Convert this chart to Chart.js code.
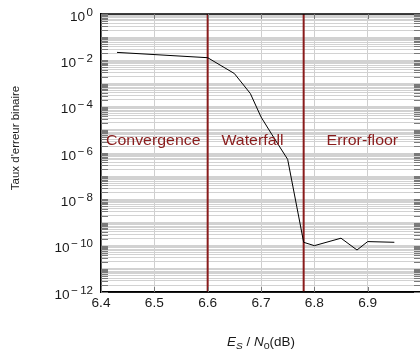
<!DOCTYPE html>
<html>
<head>
<meta charset="utf-8">
<script src="https://cdn.jsdelivr.net/npm/chart.js@4/dist/chart.umd.min.js"></script>
<style>
  html, body { margin: 0; padding: 0; background: #fff; overflow: hidden; }
  #wrap { width: 432px; height: 352px; }
</style>
</head>
<body>
<div id="wrap"><canvas id="chart" width="432" height="352"></canvas></div>
<script>
// measured curve (Es/N0 in dB, bit error rate)
const snrDb = [6.43, 6.6, 6.65, 6.68, 6.7, 6.72, 6.75, 6.78, 6.8, 6.85, 6.88, 6.9, 6.95];
const ber = [2.2e-2, 1.3e-2, 2.7e-3, 3.7e-4, 3.6e-5, 6.5e-6, 5.3e-7, 1.4e-10, 1.0e-10, 2.1e-10, 6.5e-11, 1.5e-10, 1.4e-10];

// region borders and names
const regionBorders = [6.6, 6.78];
const regionNames = ['Convergence', 'Waterfall', 'Error-floor'];
const regionCenters = [6.498, 6.684, 6.89];

// axes
const xTicks = [6.4, 6.5, 6.6, 6.7, 6.8, 6.9, 7.0];
const xTickLabels = ['6.4', '6.5', '6.6', '6.7', '6.8', '6.9', ''];
const yDecades = [0, -1, -2, -3, -4, -5, -6, -7, -8, -9, -10, -11, -12];
const yLabelExps = [0, -2, -4, -6, -8, -10, -12];

const DARKRED = '#8a1c1c';
const FONT = '"Liberation Sans", Arial, sans-serif';

const yMin = 1e-12, yMax = 1;

// draw text with horizontal stretch; returns drawn width
function wideText(ctx, text, x, y, font, sx, align) {
    ctx.font = font;
    const w = ctx.measureText(text).width * sx;
    let left = x;
    if (align === 'center') left = x - w / 2;
    else if (align === 'right') left = x - w;
    ctx.save();
    ctx.translate(left, y);
    ctx.scale(sx, 1);
    ctx.textAlign = 'left';
    ctx.fillText(text, 0, 0);
    ctx.restore();
    return w;
}

const labelsPlugin = {
    id: 'labels',
    afterDraw(chart) {
        const ctx = chart.ctx;
        const xs = chart.scales.x, ys = chart.scales.y;
        const area = chart.chartArea;
        ctx.save();

        // inward tick marks
        ctx.lineWidth = 1;
        ctx.strokeStyle = '#7a7a7a';
        for (const t of ys.ticks) {
            const y = Math.round(ys.getPixelForValue(t.value)) + 0.5;
            ctx.beginPath();
            ctx.moveTo(area.left, y); ctx.lineTo(area.left + 7, y);
            ctx.moveTo(area.right, y); ctx.lineTo(area.right - 7, y);
            ctx.stroke();
        }
        for (const v of xTicks) {
            const x = Math.round(xs.getPixelForValue(v)) + 0.5;
            ctx.beginPath();
            ctx.moveTo(x, area.top); ctx.lineTo(x, area.top + 5);
            ctx.moveTo(x, area.bottom); ctx.lineTo(x, area.bottom - 5);
            ctx.stroke();
        }

        // region names
        ctx.fillStyle = DARKRED;
        ctx.textBaseline = 'middle';
        regionNames.forEach((name, i) => {
            wideText(ctx, name, xs.getPixelForValue(regionCenters[i]), ys.getPixelForValue(3.5e-6),
                '15px ' + FONT, 1.06, 'center');
        });

        // x tick labels
        ctx.fillStyle = '#1a1a1a';
        ctx.textBaseline = 'alphabetic';
        xTicks.forEach((v, i) => {
            wideText(ctx, xTickLabels[i], xs.getPixelForValue(v), area.bottom + 15,
                '13px ' + FONT, 1.05, 'center');
        });

        // y tick labels 10^n
        for (const e of yLabelExps) {
            const y = ys.getPixelForValue(Math.pow(10, e));
            const expText = e === 0 ? '0' : '\u2212\u2009' + Math.abs(e);
            ctx.font = '11px ' + FONT;
            const ew = ctx.measureText(expText).width * 1.05;
            const expX = area.left - 8 - ew;
            wideText(ctx, expText, expX, y + 1.5, '11px ' + FONT, 1.05, 'left');
            wideText(ctx, '10', expX - 1.5, y + 6.5, '13px ' + FONT, 1.05, 'right');
        }

        // y axis title
        ctx.save();
        ctx.translate(16, 138);
        ctx.rotate(-Math.PI / 2);
        ctx.font = '11.5px ' + FONT;
        ctx.textAlign = 'center';
        ctx.textBaseline = 'middle';
        ctx.fillText("Taux d'erreur binaire", 0, 0);
        ctx.restore();

        // x axis title: Es / N0(dB)
        const parts = [
            { t: 'E', f: 'italic 12px ', dy: 0 },
            { t: 'S', f: 'italic 9px ', dy: 3 },
            { t: ' / ', f: '12px ', dy: 0 },
            { t: 'N', f: 'italic 12px ', dy: 0 },
            { t: '0', f: '9.5px ', dy: 3 },
            { t: '(dB)', f: '12px ', dy: 0 }
        ];
        const sxTitle = 1.12;
        let total = 0;
        for (const p of parts) { ctx.font = p.f + FONT; total += ctx.measureText(p.t).width * sxTitle; }
        let cx = (area.left + area.right) / 2 - total / 2;
        for (const p of parts) {
            cx += wideText(ctx, p.t, cx, 346 + p.dy, p.f + FONT, sxTitle, 'left');
        }
        ctx.restore();
    }
};

const datasets = [{
    data: snrDb.map((x, i) => ({ x: x, y: ber[i] })),
    borderColor: '#000',
    borderWidth: 1,
    pointRadius: 0,
    tension: 0,
    order: 0
}];
regionBorders.forEach(b => {
    datasets.push({
        data: [{ x: b, y: yMin }, { x: b, y: yMax }],
        borderColor: DARKRED,
        borderWidth: 2,
        pointRadius: 0,
        order: 1
    });
});

new Chart(document.getElementById('chart').getContext('2d'), {
    type: 'line',
    data: { datasets: datasets },
    options: {
        responsive: false,
        animation: false,
        events: [],
        layout: { padding: { left: 101, top: 14, right: 11, bottom: 60 } },
        plugins: { legend: { display: false }, tooltip: { enabled: false } },
        scales: {
            x: {
                type: 'linear',
                min: 6.4,
                max: 7.0,
                afterBuildTicks: scale => { scale.ticks = xTicks.map(v => ({ value: v })); },
                ticks: { display: false },
                grid: { color: '#cfcfcf', lineWidth: 1, drawTicks: false },
                border: { display: true, color: '#000', width: 1.5 }
            },
            y: {
                type: 'logarithmic',
                min: yMin,
                max: yMax,
                afterBuildTicks: scale => {
                    const t = [];
                    for (const d of yDecades) {
                        t.push({ value: Math.pow(10, d) });
                        if (d > -12) {
                            for (let m = 2; m <= 9; m++) t.push({ value: m * Math.pow(10, d - 1) });
                        }
                    }
                    scale.ticks = t;
                },
                ticks: { display: false },
                grid: { color: '#d2d2d2', lineWidth: 1, drawTicks: false },
                border: { display: true, color: '#000', width: 1.5 }
            }
        }
    },
    plugins: [labelsPlugin, {
        id: 'frame',
        afterDatasetsDraw(chart) {
            const a = chart.chartArea, ctx = chart.ctx;
            ctx.save();
            ctx.strokeStyle = '#000';
            ctx.lineWidth = 1.5;
            ctx.beginPath();
            ctx.moveTo(a.left, a.top); ctx.lineTo(a.right, a.top);
            ctx.moveTo(a.left, a.bottom); ctx.lineTo(a.right, a.bottom);
            ctx.stroke();
            ctx.restore();
        }
    }]
});
</script>
</body>
</html>
